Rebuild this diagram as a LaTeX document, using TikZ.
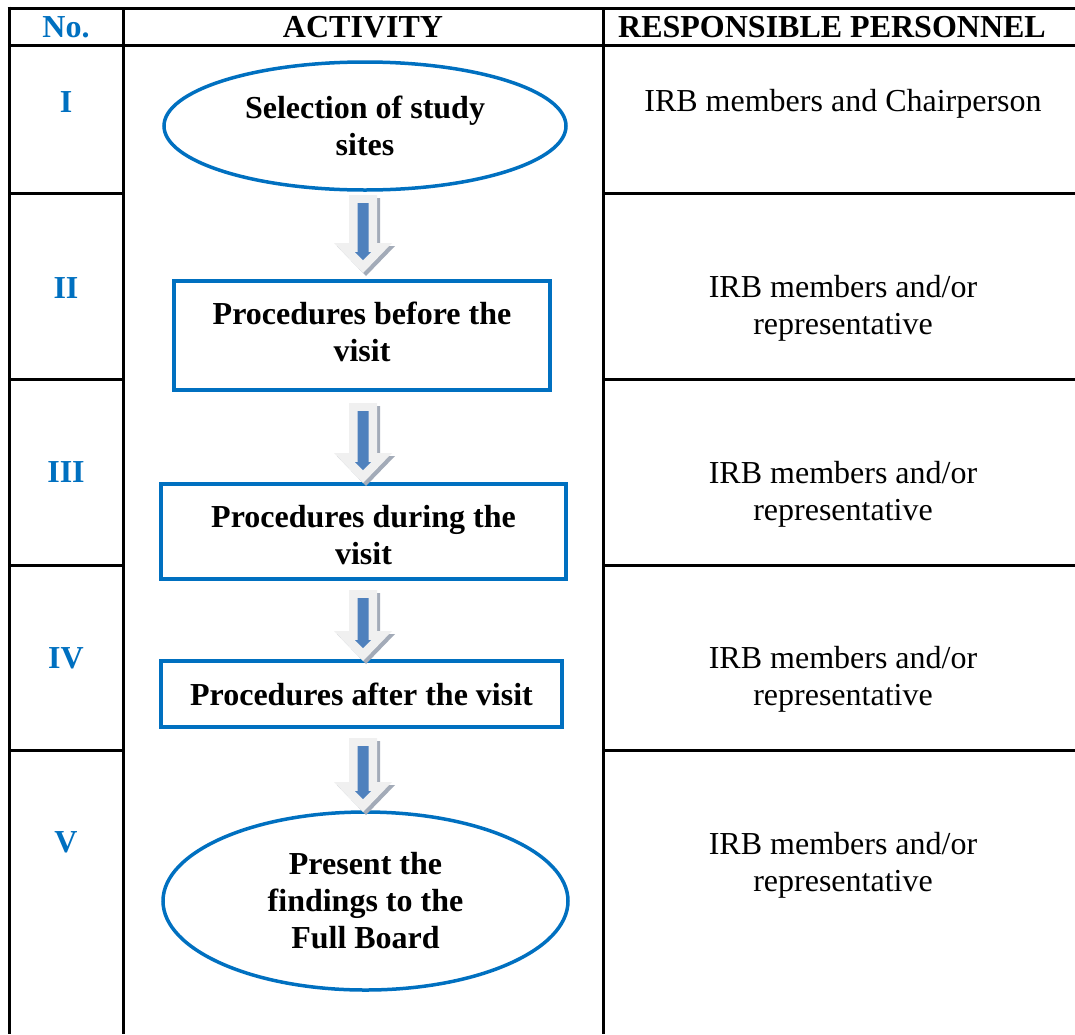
\documentclass[tikz,border=0pt]{standalone}
\usepackage{fontspec}
\setmainfont{Liberation Serif}
\usetikzlibrary{shapes.geometric,calc}
\definecolor{hblue}{HTML}{0070C0}
\definecolor{arrblue}{HTML}{4F81BD}
\definecolor{arrlight}{HTML}{F0F0F0}
\definecolor{arrshadow}{HTML}{A3ABB8}
\newcommand\blockarr[2]{%
  \fill[arrshadow] let \p1=(#1), \p2=(#2) in
    (\x1-11pt,\y1-3pt) -- (\x1+17pt,\y1-3pt) -- (\x1+17pt,\y2+27pt) -- (\x1+32pt,\y2+27pt)
    -- (\x1+3pt,\y2-3pt) -- (\x1-26pt,\y2+27pt) -- (\x1-11pt,\y2+27pt) -- cycle;
  \fill[arrlight] let \p1=(#1), \p2=(#2) in
    (\x1-14pt,\y1) -- (\x1+14pt,\y1) -- (\x1+14pt,\y2+30pt) -- (\x1+29pt,\y2+30pt)
    -- (\x1,\y2) -- (\x1-29pt,\y2+30pt) -- (\x1-14pt,\y2+30pt) -- cycle;
  \fill[arrblue] let \p1=(#1), \p2=(#2) in
    (\x1-5.5pt,\y1-8pt) -- (\x1+5.5pt,\y1-8pt) -- (\x1+5.5pt,\y2+21pt) -- (\x1+8pt,\y2+21pt)
    -- (\x1,\y2+13pt) -- (\x1-8pt,\y2+21pt) -- (\x1-5.5pt,\y2+21pt) -- cycle;
}
\begin{document}
\begin{tikzpicture}[x=1pt,y=-1pt,
  grid/.style={line width=3pt, black},
  hdr/.style={font=\bfseries\fontsize{32}{37}\selectfont, inner sep=0pt},
  num/.style={font=\bfseries\fontsize{32}{37}\selectfont, text=hblue, inner sep=0pt},
  pers/.style={font=\fontsize{32}{37}\selectfont, align=center, inner sep=0pt},
  term/.style={ellipse, draw=hblue, line width=3.5pt, inner sep=0pt, align=center,
    font=\bfseries\fontsize{32}{37}\selectfont},
  proc/.style={rectangle, draw=hblue, line width=3.5pt, inner sep=0pt, align=center,
    font=\bfseries\fontsize{32}{37}\selectfont},
  lbl/.style={inner sep=0pt, align=center, font=\bfseries\fontsize{32}{37}\selectfont},
]
\useasboundingbox (0,0) rectangle (1075,1034);
\fill[white] (0,0) rectangle (1075,1034);
% table grid
\draw[grid] (7.5,8) -- (1075,8);
\draw[grid] (9,45) -- (1075,45);
\draw[grid] (9,6.5) -- (9,1034);
\draw[grid] (123,8) -- (123,1034);
\draw[grid] (603,8) -- (603,1034);
\foreach \yy in {193,379,565,750} {
  \draw[grid] (9,\yy) -- (123,\yy);
  \draw[grid] (603,\yy) -- (1075,\yy);
}
% headers
\node[hdr, text=hblue] (hno) at (66,27) {No.};
\node[hdr] (hact) at (363,27) {ACTIVITY};
\node[hdr] (hpers) at (832,27) {RESPONSIBLE PERSONNEL};
% numerals
\node[num] (n1) at (66,102) {I};
\node[num] (n2) at (66,288) {II};
\node[num] (n3) at (66,472) {III};
\node[num] (n4) at (66,658) {IV};
\node[num] (n5) at (66,842) {V};
% personnel
\node[pers] (p1) at (843,104) {IRB members and Chairperson};
\node[pers] (p2) at (843,308) {IRB members and/or\\representative};
\node[pers] (p3) at (843,494) {IRB members and/or\\representative};
\node[pers] (p4) at (843,679) {IRB members and/or\\representative};
\node[pers] (p5) at (843,865) {IRB members and/or\\representative};
% flow shapes
\node[term, minimum width=402pt, minimum height=128pt] (e1) at (365,126) {Selection of study\\sites};
\node[proc, minimum width=376pt, minimum height=109pt] (r2) at (362,335.5) {};
\node[lbl] (t2) at (362,332) {Procedures before the\\visit};
\node[proc, minimum width=405pt, minimum height=95pt] (r3) at (363.5,531.5) {};
\node[lbl] (t3) at (363.5,535) {Procedures during the\\visit};
\node[proc, minimum width=401pt, minimum height=66pt] (r4) at (361.5,694) {Procedures after the visit};
\node[term, minimum width=405pt, minimum height=178pt] (e5) at (365.5,901) {Present the\\findings to the\\Full Board};
% arrows
\coordinate (a1t) at (363,195); \coordinate (a1b) at (363,273);
\coordinate (a2t) at (363,403); \coordinate (a2b) at (363,483);
\coordinate (a3t) at (363,590); \coordinate (a3b) at (363,661);
\coordinate (a4t) at (363,738); \coordinate (a4b) at (363,812);
\blockarr{a1t}{a1b}
\blockarr{a2t}{a2b}
\blockarr{a3t}{a3b}
\blockarr{a4t}{a4b}
\end{tikzpicture}
\end{document}
